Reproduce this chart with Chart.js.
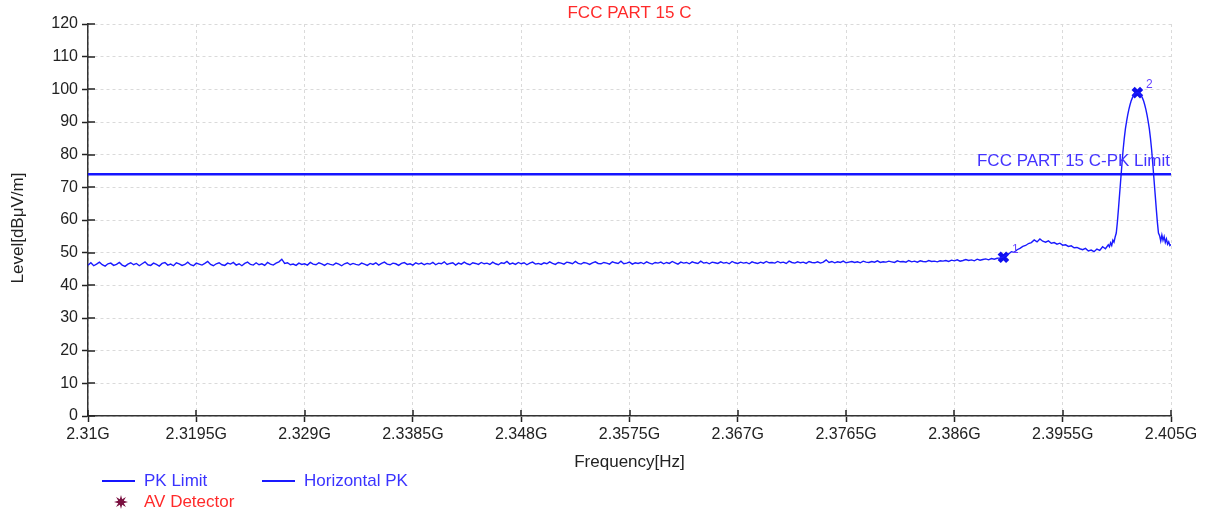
<!DOCTYPE html>
<html>
<head>
<meta charset="utf-8">
<title>FCC PART 15 C</title>
<script src="https://cdn.jsdelivr.net/npm/chart.js@4.4.1/dist/chart.umd.min.js"></script>
<style>
  html, body { margin: 0; padding: 0; background: #fff; }
  #wrap { width: 1210px; height: 513px; }
</style>
</head>
<body>
<div id="wrap"><canvas id="chart" width="1210" height="513"></canvas></div>
<script>
// Axis ticks
const xTickValues = [2.31, 2.3195, 2.329, 2.3385, 2.348, 2.3575, 2.367, 2.3765, 2.386, 2.3955, 2.405];
const yTickValues = [0, 10, 20, 30, 40, 50, 60, 70, 80, 90, 100, 110, 120];

// Horizontal PK trace, one reading every 0.25 MHz from 2.31 GHz to 2.3995 GHz
const traceStartGHz = 2.31;
const traceStepGHz = 0.00025;
const traceLevels = [
  46.2, 46.9, 46.0, 46.5, 47.1, 46.3, 45.9, 46.6, 46.8, 46.1, 46.4, 47.0, 46.2, 45.8, 46.5, 46.9, 46.3, 46.7, 46.0, 46.6,
  47.2, 46.3, 46.1, 46.8, 46.4, 45.9, 46.7, 47.0, 46.2, 46.5, 46.0, 46.9, 46.6, 46.1, 46.4, 47.1, 46.3, 46.0, 46.8, 46.5,
  46.2, 46.7, 47.3, 46.4, 46.0, 46.6, 46.9, 46.3, 46.1, 46.8, 46.5, 47.0, 46.2, 46.6, 46.0, 46.7, 47.1, 46.4, 46.2, 46.9,
  46.3, 46.6, 46.1, 47.0, 46.5, 46.2, 46.8, 47.2, 48.0, 46.7, 46.9, 46.3, 46.5, 46.1, 46.8, 46.4, 46.6, 46.2, 47.0, 46.5,
  46.3, 46.9, 46.6, 46.1, 46.7, 46.4, 46.2, 46.8, 46.5, 46.0, 46.6, 46.9, 46.3, 46.7, 46.4, 46.2, 46.8, 46.5, 46.1, 46.7,
  46.4, 46.9, 46.2, 46.7, 47.1, 46.5, 46.3, 46.8, 46.6, 46.1, 46.7, 47.0, 46.4, 46.6, 46.2, 46.9, 46.5, 46.8, 46.3, 46.7,
  46.5, 47.0, 46.3, 46.8, 46.6, 47.2, 46.4, 46.7, 46.9, 46.2, 46.8, 46.5, 47.1, 46.6, 46.3, 46.9, 46.7, 46.4, 47.0, 46.6,
  46.8, 46.4, 47.1, 46.6, 46.3, 46.9, 46.7, 47.3, 46.5, 46.8, 46.4, 47.0, 46.6, 46.9, 46.3, 46.8, 47.1, 46.5, 46.7, 46.4,
  46.9, 46.6, 47.2, 46.7, 46.4, 47.0, 46.8, 46.5, 47.1, 46.9, 46.6, 47.3, 46.7, 46.5, 47.0, 46.8, 46.4, 46.9, 47.2, 46.7,
  46.6, 47.0, 46.8, 46.5, 47.2, 46.9, 46.7, 47.4, 46.6, 46.8, 47.1, 46.5, 46.9, 46.7, 47.0, 46.6, 47.2, 46.8, 46.5, 47.0,
  46.8, 47.1, 46.6, 47.0, 46.7, 47.3, 46.9, 46.5, 47.1, 46.8, 47.0, 46.6, 47.2, 46.9, 46.7, 47.4, 46.8, 47.0, 46.6, 47.1,
  46.9, 46.7, 47.2, 46.8, 47.0, 46.6, 47.3, 46.9, 46.7, 47.1, 46.8, 47.0, 46.6, 47.2, 46.9, 46.7, 47.1, 46.8, 47.3, 46.9,
  47.0, 46.8, 47.3, 46.9, 47.1, 46.7, 47.4, 47.0, 46.8, 47.2, 46.9, 47.1, 46.7, 47.3, 47.0, 46.9, 47.2, 46.8, 47.1, 47.8,
  47.0, 47.3, 46.9, 47.2, 47.0, 47.4, 46.9, 47.1, 47.3, 47.0, 47.2, 46.9, 47.4, 47.1, 47.0, 47.3, 47.1, 47.5, 47.0, 47.2,
  47.1, 47.4, 47.2, 47.0, 47.5, 47.2, 47.3, 47.1, 47.6, 47.2, 47.4, 47.1, 47.5, 47.3, 47.2, 47.6, 47.3, 47.4, 47.2, 47.5,
  47.4, 47.6, 47.3, 47.7, 47.5, 47.8, 47.4, 47.6, 47.9, 47.6, 47.8, 47.5, 48.0, 47.7, 47.9, 48.1, 47.8, 48.2, 48.0, 48.3,
  48.4, 48.6, 49.2, 49.6, 50.3, 50.1, 50.9, 51.3, 51.9, 52.2, 52.8, 53.1, 53.9, 53.3, 54.2, 53.5, 53.2, 53.6, 52.9, 53.1,
  52.6, 52.9, 52.3, 52.4, 51.9, 52.1, 51.5, 51.6, 51.2, 50.9, 51.3, 50.5, 50.8, 50.3, 51.1, 50.7, 51.8, 51.2, 52.4
];

// Finer readings over the carrier peak
const peakFreqs = [
  2.3996, 2.3997, 2.3998, 2.3999, 2.4000, 2.4001, 2.4002, 2.4003, 2.4004, 2.4005, 2.4006,
  2.4007, 2.4008, 2.4009, 2.4010, 2.4011, 2.4012, 2.4013, 2.4014, 2.4015, 2.4016, 2.4017,
  2.4018, 2.4019, 2.4020, 2.4021, 2.4022, 2.4023, 2.4024, 2.4025, 2.4026, 2.4027, 2.4028,
  2.4029, 2.4030, 2.4031, 2.4032, 2.4033, 2.4034, 2.4035, 2.4036, 2.4037, 2.4038, 2.4039,
  2.4040, 2.4041, 2.4042, 2.4043, 2.4044, 2.4045, 2.4046, 2.4047, 2.4048, 2.4049, 2.4050
];
const peakLevels = [
  51.8, 53.0, 52.2, 53.8, 53.2, 54.8, 56.0, 59.5, 63.8, 68.3, 72.8,
  77.3, 81.5, 85.0, 87.9, 90.1, 92.1, 93.8, 95.2, 96.4, 97.3, 98.0,
  98.5, 98.8, 99.0, 99.0, 98.8, 98.5, 98.0, 97.3, 96.4, 95.2, 93.8,
  92.1, 90.1, 87.9, 85.0, 81.5, 77.3, 72.8, 68.3, 63.8, 59.5, 56.0,
  55.2, 53.6, 55.4, 53.8, 54.9, 53.1, 54.2, 52.6, 53.3, 52.2, 52.5
];

// PK limit line
const limitLevel = 74;
const limitText = 'FCC PART 15 C-PK Limit';

// Markers
const markerNames = ['1', '2'];
const markerFreqs = [2.3903, 2.40205];
const markerLevels = [48.6, 99.0];

const FONT = '"Liberation Sans", Arial, sans-serif';

// Build the trace points
function buildTrace() {
  const pts = traceLevels.map((v, i) => ({ x: +(traceStartGHz + i * traceStepGHz).toFixed(5), y: v }));
  peakFreqs.forEach((f, i) => pts.push({ x: f, y: peakLevels[i] }));
  return pts;
}

// Star shape used for the AV Detector legend entry
function drawStar(ctx, cx, cy, r1, r2, color) {
  ctx.beginPath();
  for (let i = 0; i < 16; i++) {
    const r = i % 2 === 0 ? r1 : r2;
    const a = i * Math.PI / 8 - Math.PI / 2;
    const px = cx + r * Math.cos(a), py = cy + r * Math.sin(a);
    if (i === 0) ctx.moveTo(px, py); else ctx.lineTo(px, py);
  }
  ctx.closePath();
  ctx.fillStyle = color;
  ctx.fill();
}

// Texts, inner tick marks and legend
const overlayPlugin = {
  id: 'overlay',
  afterDraw(chart) {
    const ctx = chart.ctx;
    const area = chart.chartArea;
    const xs = chart.scales.x, ys = chart.scales.y;
    ctx.save();

    // inner half of the tick marks
    ctx.strokeStyle = '#222';
    ctx.lineWidth = 1.5;
    ctx.beginPath();
    yTickValues.forEach(v => {
      const y = Math.round(ys.getPixelForValue(v));
      ctx.moveTo(area.left, y); ctx.lineTo(area.left + 7, y);
    });
    xTickValues.forEach(v => {
      const x = Math.round(xs.getPixelForValue(v));
      ctx.moveTo(x, area.bottom); ctx.lineTo(x, area.bottom - 6);
    });
    ctx.stroke();

    const cx = (area.left + area.right) / 2;

    // title
    ctx.font = '17px ' + FONT;
    ctx.fillStyle = '#ff2a2a';
    ctx.textAlign = 'center';
    ctx.textBaseline = 'middle';
    ctx.fillText('FCC PART 15 C', cx, 13);

    // axis titles
    ctx.fillStyle = '#222';
    ctx.fillText('Frequency[Hz]', cx, 462);
    ctx.save();
    ctx.translate(18, 228);
    ctx.rotate(-Math.PI / 2);
    ctx.fillText('Level[dB\u03bcV/m]', 0, 0);
    ctx.restore();

    // limit label
    ctx.fillStyle = '#4433ff';
    ctx.textAlign = 'right';
    ctx.textBaseline = 'alphabetic';
    ctx.fillText(limitText, area.right - 1, ys.getPixelForValue(limitLevel) - 8);

    // marker numbers
    ctx.font = '12px ' + FONT;
    ctx.fillStyle = '#6644ff';
    ctx.textAlign = 'center';
    ctx.textBaseline = 'middle';
    markerNames.forEach((n, i) => {
      const x = xs.getPixelForValue(markerFreqs[i]);
      const y = ys.getPixelForValue(markerLevels[i]);
      ctx.fillText(n, x + 12, y - 8);
    });

    // legend
    const slots = [{ x: 102, y: 481 }, { x: 262, y: 481 }, { x: 102, y: 502 }];
    const items = chart.data.datasets.filter(d => d.legendText);
    ctx.font = '17px ' + FONT;
    ctx.textAlign = 'left';
    items.forEach((d, i) => {
      const s = slots[i];
      if (d.legendStar) {
        drawStar(ctx, s.x + 19, s.y, 7, 3, d.borderColor);
      } else {
        ctx.strokeStyle = d.borderColor;
        ctx.lineWidth = 2;
        ctx.beginPath();
        ctx.moveTo(s.x, s.y); ctx.lineTo(s.x + 33, s.y);
        ctx.stroke();
      }
      ctx.fillStyle = d.legendColor;
      ctx.fillText(d.legendText, s.x + 42, s.y);
    });

    ctx.restore();
  }
};

const ctx = document.getElementById('chart').getContext('2d');
new Chart(ctx, {
  type: 'line',
  data: {
    datasets: [
      {
        label: 'PK Limit',
        legendText: 'PK Limit',
        legendColor: '#3a33ff',
        data: [{ x: xTickValues[0], y: limitLevel }, { x: xTickValues[xTickValues.length - 1], y: limitLevel }],
        borderColor: '#1515ff',
        borderWidth: 2.5,
        pointRadius: 0,
      },
      {
        label: 'Horizontal PK',
        legendText: 'Horizontal PK',
        legendColor: '#3a33ff',
        data: buildTrace(),
        borderColor: '#1a1aff',
        borderWidth: 1.4,
        pointRadius: 0,
        tension: 0,
      },
      {
        label: 'Markers',
        data: markerFreqs.map((f, i) => ({ x: f, y: markerLevels[i] })),
        showLine: false,
        pointStyle: 'crossRot',
        pointRadius: 6,
        borderWidth: 4.5,
        borderColor: '#1010ee',
        backgroundColor: '#1010ee',
      },
      {
        label: 'AV Detector',
        legendText: 'AV Detector',
        legendColor: '#ff2a2a',
        legendStar: true,
        data: [],
        borderColor: '#7a1040',
        pointStyle: 'star',
      },
    ],
  },
  options: {
    responsive: false,
    animation: false,
    devicePixelRatio: 1,
    layout: { padding: { top: 24, right: 39, left: 0, bottom: 0 } },
    plugins: {
      legend: { display: false },
      title: { display: false },
      tooltip: { enabled: false },
    },
    scales: {
      x: {
        type: 'linear',
        min: 2.31,
        max: 2.405,
        afterBuildTicks: scale => { scale.ticks = xTickValues.map(v => ({ value: v })); },
        afterFit: scale => { scale.height = 97; },
        ticks: {
          autoSkip: false,
          maxRotation: 0,
          padding: 3,
          color: '#222',
          font: { family: FONT, size: 16 },
          callback: v => v + 'G',
        },
        grid: { color: '#dadada', tickColor: '#222', tickLength: 6, tickWidth: 1.5 },
        border: { color: '#333', width: 1.5, dash: [3, 3] },
      },
      y: {
        min: 0,
        max: 120,
        afterBuildTicks: scale => { scale.ticks = yTickValues.map(v => ({ value: v })); },
        afterFit: scale => { scale.width = 88; },
        ticks: {
          padding: 4,
          color: '#222',
          font: { family: FONT, size: 16 },
        },
        grid: { color: '#dadada', tickColor: '#222', tickLength: 6, tickWidth: 1.5 },
        border: { color: '#333', width: 1.5, dash: [3, 3] },
      },
    },
  },
  plugins: [overlayPlugin],
});
</script>
</body>
</html>
